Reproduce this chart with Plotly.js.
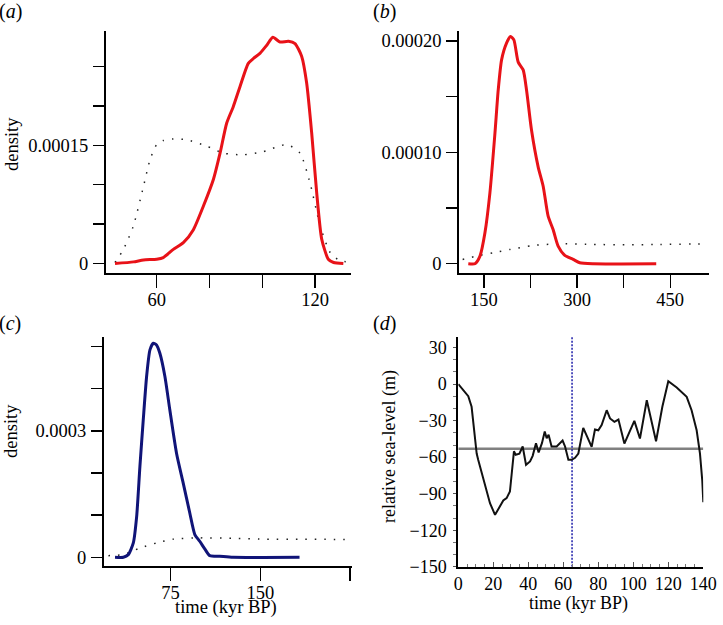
<!DOCTYPE html>
<html>
<head>
<meta charset="utf-8">
<script src="https://cdn.plot.ly/plotly-3.0.1.min.js"></script>
<style>html,body{margin:0;padding:0;background:#fff}#chart{width:723px;height:625px}</style>
</head>
<body>
<div id="chart"></div>
<script>
// ---- data ----
// (a) red posterior density and dotted prior
const aPostX = [44.2, 51.2, 55, 60, 62.5, 66.3, 70.1, 73.9, 77.7, 81.5, 84, 86.5, 89, 91.6, 94.7, 96.6, 99.2, 101.7, 104, 106.7, 109.9, 112.4, 114.9, 116.8, 118.7, 120.6, 122.5, 125, 127, 130.7];
const aPostY = [0, 2.1e-6, 4.6e-6, 5.5e-6, 7.6e-6, 1.8e-5, 2.65e-5, 4.3e-5, 7.3e-5, 1.07e-4, 1.40e-4, 1.78e-4, 1.99e-4, 2.25e-4, 2.54e-4, 2.60e-4, 2.67e-4, 2.77e-4, 2.87e-4, 2.81e-4, 2.82e-4, 2.79e-4, 2.63e-4, 2.29e-4, 1.66e-4, 9.0e-5, 3.1e-5, 5.5e-6, 1.3e-6, 0];
const aPriorX = [44.2, 47.4, 51.2, 55, 57.5, 60, 62.5, 66.3, 71.4, 78.9, 85.3, 92.8, 100.4, 109.3, 114.3, 118.1, 121.9, 125.7, 129.5, 133.3];
const aPriorY = [1.3e-6, 1.8e-5, 4.8e-5, 9.8e-5, 1.32e-4, 1.51e-4, 1.56e-4, 1.58e-4, 1.57e-4, 1.49e-4, 1.40e-4, 1.38e-4, 1.42e-4, 1.51e-4, 1.40e-4, 1.02e-4, 4.8e-5, 1.4e-5, 3.4e-6, 2.1e-6];
const aTickVals = [60, 80, 100, 120];
const aTickText = ["60", "", "", "120"];
const aYTickVals = [0, 5e-5, 1e-4, 1.5e-4, 2e-4, 2.5e-4];
const aYTickText = ["0", "", "", "0.00015", "", ""];

// (b)
const bPostX = [124.8, 135.5, 143.6, 151.6, 159.6, 167.7, 173, 178.4, 186.4, 192.9, 198.2, 205.2, 213.2, 218.6, 226.6, 237.3, 245.4, 253.4, 261.4, 269.5, 280.2, 293.6, 304.3, 325.7, 427.5];
const bPostY = [0, 0, 6.9e-6, 2.78e-5, 6.36e-5, 1.17e-4, 1.56e-4, 1.83e-4, 1.98e-4, 2.04e-4, 2.01e-4, 1.81e-4, 1.74e-4, 1.56e-4, 1.20e-4, 8.7e-5, 6.96e-5, 4.27e-5, 3.07e-5, 1.58e-5, 7.5e-6, 3.9e-6, 9e-7, 0, 0];
const bPriorX = [115.7, 138.2, 165, 191.8, 229.3, 272.1, 325.7, 379.3, 432.9, 510.5];
const bPriorY = [3.9e-6, 6.9e-6, 9.9e-6, 1.28e-5, 1.64e-5, 1.79e-5, 1.73e-5, 1.70e-5, 1.73e-5, 1.79e-5];
const bTickVals = [150, 225, 300, 375, 450];
const bTickText = ["150", "", "300", "", "450"];
const bYTickVals = [0, 5e-5, 1e-4, 1.5e-4, 2e-4];
const bYTickText = ["0", "", "0.00010", "", "0.00020"];

// (c)
const cPostX = [28.6, 35.6, 39.7, 43.9, 46.7, 49.4, 52.2, 55, 57.8, 60.6, 63.3, 66.1, 70.3, 74.4, 80, 85.6, 91.1, 95.3, 99.4, 103.6, 107.8, 116.1, 127.2, 182.8];
const cPostY = [0, 0, 6.3e-6, 3.4e-5, 9.7e-5, 2.15e-4, 3.26e-4, 4.29e-4, 4.92e-4, 5.08e-4, 5.04e-4, 4.84e-4, 4.29e-4, 3.50e-4, 2.47e-4, 1.76e-4, 1.05e-4, 5.4e-5, 3.8e-5, 2.0e-5, 3.9e-6, 2.4e-6, 0, 0];
const cPriorX = [23.1, 35.6, 49.4, 63.3, 77.2, 99.4, 127.2, 155, 182.8, 226];
const cPriorY = [3.9e-6, 6.3e-6, 2.2e-5, 3.4e-5, 4.3e-5, 4.6e-5, 4.5e-5, 4.3e-5, 4.3e-5, 4.2e-5];
const cTickVals = [75, 150, 225];
const cTickText = ["75", "150", ""];
const cYTickVals = [0, 1e-4, 2e-4, 3e-4, 4e-4, 5e-4];
const cYTickText = ["0", "", "", "0.0003", "", ""];

// (d) relative sea-level
const dX = [0, 2.9, 5.7, 7.6, 9.0, 10.5, 11.4, 12.4, 14.3, 16.2, 18.1, 21, 23.4, 25.7, 27.6, 29.5, 31.8, 32.8, 34.9, 36.8, 38.7, 41, 42.5, 44.4, 45.9, 47.8, 49.4, 50.5, 51.6, 53.3, 56.2, 59.6, 61, 62.9, 64.8, 66.7, 68.6, 71.4, 76.2, 78.1, 80, 81.9, 84.8, 86.7, 89.2, 91.5, 94.9, 97.5, 100.6, 103.8, 107.7, 113, 116.6, 120, 124.8, 130.5, 133.3, 136.2, 138.1, 139.4, 140];
const dY = [0, -4.9, -9.9, -18.6, -35, -57, -62.3, -67.8, -78.7, -89.7, -97.8, -107.4, -101.9, -95.6, -93.7, -88.2, -55.2, -58, -57.2, -51.2, -66.3, -63.5, -58.9, -48.5, -56.1, -48.5, -38.9, -44.4, -41.6, -51.2, -51.2, -46.3, -51.2, -62.2, -62.2, -60.5, -57, -35.9, -51.5, -37.3, -37.9, -33.7, -21.4, -28.2, -31, -29.1, -48.8, -40.6, -30.2, -44.7, -13.2, -46.9, -18.6, 2.4, -2.8, -10.4, -21.4, -37.9, -57.1, -79, -97];
const dMeanLevel = [-53, -53];
const dMeanX = [0, 140];
const dMarkerX = [65, 65];
const dMarkerY = [-150, 39];

// ---- styling ----
const W = 723, H = 625;
const FONT = "Liberation Serif, Times New Roman, serif";
const FS = 18.5;
const fx = p => p / W;
const fy = p => 1 - p / H;
const RED = "rgb(232,18,24)";
const NAVY = "rgb(16,20,120)";

function axisBase(extra) {
  return Object.assign({
    showline: true, linewidth: 2, linecolor: "#000", mirror: false,
    showgrid: false, zeroline: false,
    ticks: "outside", ticklen: 11, tickwidth: 1.3, tickcolor: "#000",
    tickmode: "array",
    tickfont: {family: FONT, size: FS, color: "#000"},
    fixedrange: true
  }, extra);
}
const xAB = {ticklen: 13, ticklabelstandoff: -4};
const yAB = {ticklen: 11, ticklabelstandoff: 1};

const postLine = c => ({color: c, width: 3, shape: "spline", smoothing: 0.6});
const priorLine = {color: "#222", width: 1.5, dash: "1.5px,8px", shape: "spline", smoothing: 0.6};

const traces = [
  {x: aPriorX, y: aPriorY, xaxis: "x", yaxis: "y", mode: "lines", line: priorLine},
  {x: aPostX, y: aPostY, xaxis: "x", yaxis: "y", mode: "lines", line: postLine(RED)},
  {x: bPriorX, y: bPriorY, xaxis: "x2", yaxis: "y2", mode: "lines", line: priorLine},
  {x: bPostX, y: bPostY, xaxis: "x2", yaxis: "y2", mode: "lines", line: postLine(RED)},
  {x: cPriorX, y: cPriorY, xaxis: "x3", yaxis: "y3", mode: "lines", line: priorLine},
  {x: cPostX, y: cPostY, xaxis: "x3", yaxis: "y3", mode: "lines", line: postLine(NAVY)},
  {x: dMeanX, y: dMeanLevel, xaxis: "x4", yaxis: "y4", mode: "lines", line: {color: "#808080", width: 2.5}},
  {x: dMarkerX, y: dMarkerY, xaxis: "x4", yaxis: "y4", mode: "lines", line: {color: "#1c1ca8", width: 1.5, dash: "2px,1.5px"}},
  {x: dX, y: dY, xaxis: "x4", yaxis: "y4", mode: "lines", line: {color: "#111", width: 2}}
];

const layout = {
  width: W, height: H,
  margin: {l: 0, r: 0, t: 0, b: 0},
  paper_bgcolor: "#fff", plot_bgcolor: "#fff",
  showlegend: false,
  font: {family: FONT, size: 18, color: "#000"},
  xaxis: axisBase(Object.assign({domain: [fx(106), fx(351)], anchor: "y", range: [40.8, 133.6], tickvals: aTickVals, ticktext: aTickText}, xAB)),
  yaxis: axisBase(Object.assign({domain: [fy(273), fy(31)], anchor: "x", range: [-1.2e-5, 2.95e-4], tickvals: aYTickVals, ticktext: aYTickText}, yAB)),
  xaxis2: axisBase(Object.assign({domain: [fx(459.3), fx(709.3)], anchor: "y2", range: [110.3, 513], tickvals: bTickVals, ticktext: bTickText}, xAB)),
  yaxis2: axisBase(Object.assign({domain: [fy(273), fy(30.7)], anchor: "x2", range: [-8.3e-6, 2.092e-4], tickvals: bYTickVals, ticktext: bYTickText}, yAB)),
  xaxis3: axisBase(Object.assign({domain: [fx(104), fx(351.7)], anchor: "y3", range: [19.4, 226.4], tickvals: cTickVals, ticktext: cTickText}, xAB)),
  yaxis3: axisBase(Object.assign({domain: [fy(566), fy(337.3)], anchor: "x3", range: [-2.07e-5, 5.22e-4], tickvals: cYTickVals, ticktext: cYTickText}, yAB)),
  xaxis4: axisBase({domain: [fx(458.3), fx(703.3)], anchor: "y4", range: [0, 140], tickmode: "linear", tick0: 0, dtick: 20,
    ticks: "inside", ticklen: 5, tickwidth: 1, tickcolor: "#555",
    tickfont: {family: FONT, size: 18, color: "#000"},
    minor: {ticks: "inside", dtick: 5, ticklen: 3, tickwidth: 1, tickcolor: "#777"}}),
  yaxis4: axisBase({domain: [fy(566.7), fy(336.7)], anchor: "x4", range: [-150, 39], tickmode: "linear", tick0: 0, dtick: 30,
    ticks: "outside", ticklen: 3, tickwidth: 1, tickcolor: "#555", ticklabelstandoff: 3,
    tickfont: {family: FONT, size: 18, color: "#000"},
    minor: {ticks: "outside", dtick: 10, ticklen: 3, tickwidth: 1, tickcolor: "#777"}}),
  annotations: [
    {text: "(<i>a</i>)", x: fx(10), y: fy(12), font: {size: 20}},
    {text: "(<i>b</i>)", x: fx(384), y: fy(12), font: {size: 20}},
    {text: "(<i>c</i>)", x: fx(10), y: fy(323), font: {size: 20}},
    {text: "(<i>d</i>)", x: fx(384), y: fy(323), font: {size: 20}},
    {text: "density", x: fx(12), y: fy(144), textangle: -90, font: {size: FS}},
    {text: "density", x: fx(11), y: fy(431), textangle: -90, font: {size: FS}},
    {text: "relative sea-level (m)", x: fx(390), y: fy(447), textangle: -90, font: {size: 18}},
    {text: "time (kyr BP)", x: fx(226), y: fy(607.5), font: {size: FS}},
    {text: "time (kyr BP)", x: fx(578), y: fy(603), font: {size: 18}}
  ].map(a => Object.assign({xref: "paper", yref: "paper", showarrow: false, xanchor: "center", yanchor: "middle"}, a,
    {font: Object.assign({family: FONT, color: "#000"}, a.font)}))
};

Plotly.newPlot("chart", traces, layout, {staticPlot: true, displayModeBar: false});
</script>
</body>
</html>
